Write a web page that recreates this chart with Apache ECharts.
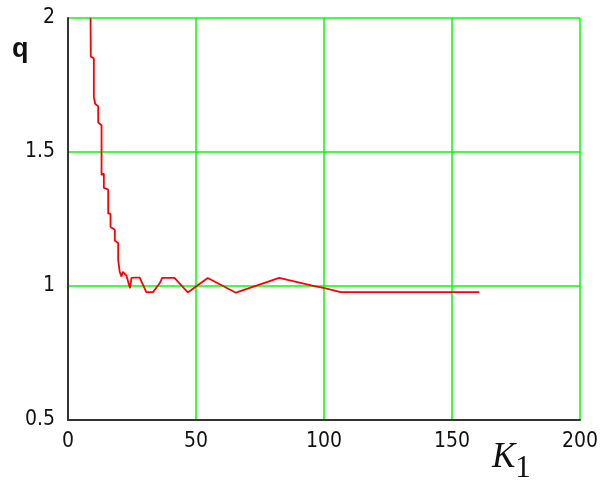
<!DOCTYPE html>
<html>
<head>
<meta charset="utf-8">
<script src="https://cdn.jsdelivr.net/npm/echarts@6/dist/echarts.min.js"></script>
<style>
  html, body { margin: 0; padding: 0; background: #fff; }
  #chart { width: 601px; height: 485px; }
</style>
</head>
<body>
<div id="chart"></div>
<script>
// K1 values and the corresponding q values of the computed curve
const kValues = [
  8.8, 8.9, 10.1, 10.1, 10.6, 10.6, 11.8, 11.8, 13.1, 13.1,
  14.0, 14.0, 15.7, 15.7, 16.6, 16.6, 18.3, 18.3, 19.6, 19.6,
  20.2, 20.2, 20.9, 21.4, 22.8, 24.2, 24.8, 26.0, 28.0, 30.6,
  33.2, 35.8, 36.8, 41.6, 46.8, 50.0, 54.6, 65.6, 82.5, 95.4,
  100.7, 106.5, 160.7
];
const qValues = [
  2.0, 1.856, 1.85, 1.706, 1.70, 1.68, 1.67, 1.61, 1.60, 1.414,
  1.42, 1.366, 1.36, 1.27, 1.27, 1.22, 1.21, 1.17, 1.16, 1.097,
  1.09, 1.053, 1.035, 1.053, 1.04, 0.992, 1.03, 1.031, 1.031, 0.977,
  0.977, 1.01, 1.03, 1.03, 0.976, 0.998, 1.03, 0.975, 1.03, 1.001,
  0.991, 0.977, 0.977
];

// Axis tick labels
const xTicks = [0, 50, 100, 150, 200];
const yTicks = [0.5, 1, 1.5, 2];

const curve = kValues.map((k, i) => [k, qValues[i]]);

const labelFont = '"DejaVu Sans Condensed", "Liberation Sans Narrow", sans-serif';
const green = '#00ff00';

const chart = echarts.init(document.getElementById('chart'), null, { renderer: 'canvas' });
chart.setOption({
  animation: false,
  backgroundColor: '#ffffff',
  grid: { left: 68, right: 19, top: 18, bottom: 65, containLabel: false },
  xAxis: {
    type: 'value',
    min: xTicks[0],
    max: xTicks[xTicks.length - 1],
    interval: 50,
    axisLine: { show: true, onZero: false, lineStyle: { color: '#333333', width: 2 } },
    axisTick: { show: false },
    axisLabel: {
      color: '#111111', fontFamily: labelFont, fontSize: 21, margin: 11,
      formatter: v => xTicks.includes(v) ? String(v) : ''
    },
    splitLine: { show: true, lineStyle: { color: green, width: 1.5 } }
  },
  yAxis: {
    type: 'value',
    min: yTicks[0],
    max: yTicks[yTicks.length - 1],
    interval: 0.5,
    axisLine: { show: true, onZero: false, lineStyle: { color: '#333333', width: 2 } },
    axisTick: { show: false },
    axisLabel: {
      color: '#111111', fontFamily: labelFont, fontSize: 21, margin: 13,
      formatter: v => yTicks.includes(v) ? String(v) : ''
    },
    splitLine: { show: true, lineStyle: { color: green, width: 1.5 } }
  },
  series: [{
    type: 'line',
    data: curve,
    showSymbol: false,
    clip: true,
    lineStyle: { color: '#ff0000', width: 1.8 }
  }],
  graphic: [
    {
      type: 'text', left: 12, top: 36,
      style: { text: 'q', font: 'bold 27px "Liberation Sans", Arial, sans-serif', fill: '#111111' }
    },
    {
      type: 'text', left: 492, top: 440,
      style: {
        text: '{k|K}{s|1}',
        rich: {
          k: { font: 'italic 35px "Liberation Serif", "Times New Roman", serif', fill: '#111111' },
          s: { font: '31px "Liberation Serif", "Times New Roman", serif', fill: '#111111', padding: [22, 0, 0, 0] }
        }
      }
    }
  ]
});
</script>
</body>
</html>
